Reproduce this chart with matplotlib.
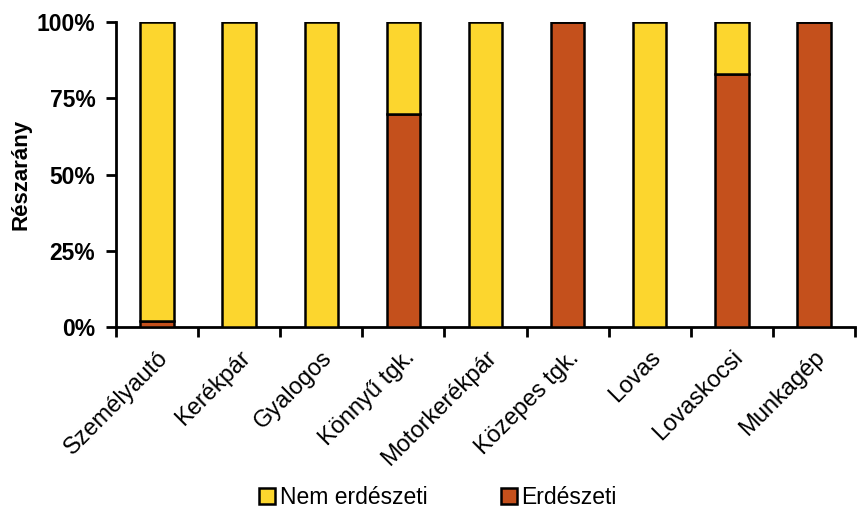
import numpy as np
import matplotlib
matplotlib.use("Agg")
import matplotlib.pyplot as plt
from matplotlib.ticker import PercentFormatter, FixedLocator

# kategóriák és arányok (%)
categories = ["Személyautó", "Kerékpár", "Gyalogos", "Könnyű tgk.", "Motorkerékpár",
              "Közepes tgk.", "Lovas", "Lovaskocsi", "Munkagép"]
erdeszeti = [2, 0, 0, 70, 0, 100, 0, 83, 100]
nem_erdeszeti = [100 - v for v in erdeszeti]

plt.rcParams['font.family'] = ['Liberation Sans', 'DejaVu Sans']

col_yellow = '#FCD62E'
col_orange = '#C4501C'

fig = plt.figure(figsize=(8.67, 5.25), dpi=100)
ax = fig.add_axes([0.134, 0.377, 0.852, 0.581])

x = np.arange(len(categories))
w = 0.41
ax.bar(x, erdeszeti, w, color=col_orange, edgecolor='black', linewidth=1.8,
       label='Erdészeti', zorder=3)
ax.bar(x, nem_erdeszeti, w, bottom=erdeszeti, color=col_yellow, edgecolor='black',
       linewidth=1.8, label='Nem erdészeti', zorder=3)

ax.set_xlim(-0.5, len(categories) - 0.5)
ax.set_ylim(0, 100)
ax.set_yticks([0, 25, 50, 75, 100])
ax.yaxis.set_major_formatter(PercentFormatter(decimals=0))
for t in ax.get_yticklabels():
    t.set_fontweight('bold')
    t.set_fontsize(16.5)

ax.set_xticks(x)
ax.set_xticklabels(categories, rotation=45, ha='right', rotation_mode='anchor', fontsize=17)
ax.tick_params(axis='x', which='major', length=0, pad=14)
ax.xaxis.set_minor_locator(FixedLocator(np.arange(-0.5, len(categories), 1.0)))
ax.tick_params(axis='x', which='minor', length=7, width=2, direction='out')
ax.tick_params(axis='y', length=7, width=2, direction='out', pad=8)

for s in ['top', 'right']:
    ax.spines[s].set_visible(False)
for s in ['left', 'bottom']:
    ax.spines[s].set_linewidth(2)

ax.set_ylabel("Részarány", fontsize=16, fontweight='bold')
ax.yaxis.set_label_coords(-0.115, 0.5)

handles, labels = ax.get_legend_handles_labels()
fig.legend(handles[::-1], labels[::-1], loc='center', bbox_to_anchor=(0.505, 0.053),
           ncol=2, frameon=False, fontsize=16.5, handlelength=0.7, handleheight=0.7,
           handletextpad=0.2, columnspacing=3.2)

fig.savefig("out.png", dpi=100)
